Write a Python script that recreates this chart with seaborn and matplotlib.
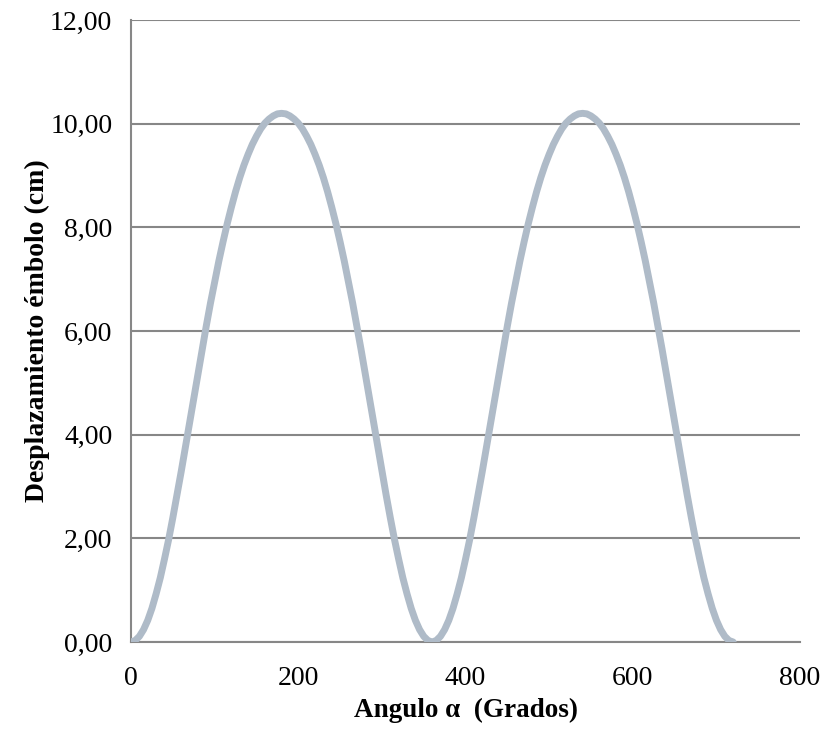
import numpy as np
import pandas as pd
import matplotlib
matplotlib.use("Agg")
import matplotlib.pyplot as plt
from matplotlib.ticker import FuncFormatter
import seaborn as sns

# Piston displacement (cm), every 5 degrees over half a turn
half_cycle = [0.00, 0.03, 0.11, 0.24, 0.42, 0.65, 0.93, 1.24, 1.60, 1.98,
              2.40, 2.84, 3.29, 3.76, 4.24, 4.71, 5.18, 5.65, 6.10, 6.54,
              6.95, 7.35, 7.72, 8.07, 8.39, 8.69, 8.96, 9.20, 9.41, 9.60,
              9.76, 9.90, 10.01, 10.09, 10.15, 10.19, 10.20]
one_turn = half_cycle + half_cycle[-2::-1]
displacement = one_turn + one_turn[1:]
angle = list(range(0, 725, 5))

data = pd.DataFrame({'angulo': angle, 'desplazamiento': displacement})

sns.set_style("white")
plt.rcParams['font.family'] = ['Liberation Serif', 'DejaVu Serif']
plt.rcParams['text.color'] = 'black'
plt.rcParams['axes.labelcolor'] = 'black'
plt.rcParams['xtick.color'] = 'black'
plt.rcParams['ytick.color'] = 'black'

fig = plt.figure(figsize=(8.21, 7.29), dpi=100)
ax = fig.add_axes([0.1596, 0.1193, 0.8149, 0.8532])

sns.lineplot(x='angulo', y='desplazamiento', data=data, ax=ax,
             color='#AFBBC8', linewidth=5, solid_capstyle='round',
             solid_joinstyle='round', zorder=3)

ax.set_xlim(0, 800)
ax.set_ylim(0, 12)
ax.set_xticks(range(0, 801, 200))
ax.set_yticks(range(0, 13, 2))
ax.yaxis.set_major_formatter(FuncFormatter(lambda v, p: f'{v:.2f}'.replace('.', ',')))

ax.grid(axis='y', color='#878787', linewidth=1.5)
ax.set_axisbelow(True)
for s in ['top', 'right']:
    ax.spines[s].set_visible(False)
for s in ['left', 'bottom']:
    ax.spines[s].set_color('#878787')
    ax.spines[s].set_linewidth(1.5)

ax.tick_params(axis='both', length=0, labelsize=20)
ax.tick_params(axis='x', pad=17)
ax.tick_params(axis='y', pad=13.5)
ax.set_xlabel('Angulo α  (Grados)', fontsize=19.5, fontweight='bold', labelpad=5)
ax.set_ylabel('Desplazamiento émbolo (cm)', fontsize=20, fontweight='bold', labelpad=0)

plt.savefig('out.png', dpi=100)
